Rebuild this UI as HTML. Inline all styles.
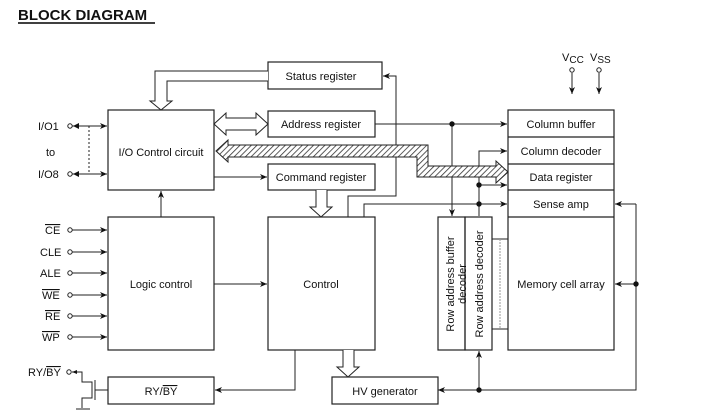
<!DOCTYPE html>
<html><head><meta charset="utf-8"><style>
body{margin:0;background:#fff;}
svg{display:block;font-family:"Liberation Sans",Arial,sans-serif;}
text{font-size:11px;fill:#111;}
</style></head><body>
<svg width="709" height="411" viewBox="0 0 709 411" xmlns="http://www.w3.org/2000/svg">
<defs>
<marker id="a" markerWidth="8" markerHeight="8" refX="7" refY="4" orient="auto" markerUnits="userSpaceOnUse"><path d="M0,1 L7,4 L0,7 L2,4 z" fill="#111"/></marker>
<pattern id="h" width="4" height="4" patternUnits="userSpaceOnUse" patternTransform="rotate(45)"><rect width="4" height="4" fill="#fff"/><line x1="0" y1="0" x2="0" y2="4" stroke="#333" stroke-width="1.6"/></pattern>
</defs>
<text x="18" y="20" style="font-size:15px;font-weight:bold">BLOCK DIAGRAM</text>
<line x1="18" y1="23" x2="155" y2="23" stroke="#000" stroke-width="1.5"/>
<g fill="none" stroke="#222" stroke-width="1.2">
<rect x="108" y="110" width="106" height="80"/>
<rect x="108" y="217" width="106" height="133"/>
<rect x="268" y="62" width="114" height="27"/>
<rect x="268" y="111" width="107" height="26"/>
<rect x="268" y="164" width="107" height="26"/>
<rect x="268" y="217" width="107" height="133"/>
<rect x="108" y="377" width="106" height="27"/>
<rect x="332" y="377" width="106" height="27"/>
<rect x="438" y="217" width="27" height="133"/>
<rect x="465" y="217" width="27" height="133"/>
<rect x="508" y="110" width="106" height="240"/>
<line x1="508" y1="137" x2="614" y2="137"/>
<line x1="508" y1="164" x2="614" y2="164"/>
<line x1="508" y1="190" x2="614" y2="190"/>
<line x1="508" y1="217" x2="614" y2="217"/>
</g>
<g font-size="11">
<text x="161" y="156" text-anchor="middle">I/O Control circuit</text>
<text x="161" y="288" text-anchor="middle">Logic control</text>
<text x="321" y="80" text-anchor="middle">Status register</text>
<text x="321" y="128" text-anchor="middle">Address register</text>
<text x="321" y="181" text-anchor="middle">Command register</text>
<text x="321" y="288" text-anchor="middle">Control</text>
<text x="161" y="395" text-anchor="middle">RY/<tspan text-decoration="overline">BY</tspan></text>
<text x="385" y="395" text-anchor="middle">HV generator</text>
<text x="561" y="128" text-anchor="middle">Column buffer</text>
<text x="561" y="155" text-anchor="middle">Column decoder</text>
<text x="561" y="181" text-anchor="middle">Data register</text>
<text x="561" y="208" text-anchor="middle">Sense amp</text>
<text x="561" y="288" text-anchor="middle">Memory cell array</text>
<text transform="translate(454,284) rotate(-90)" text-anchor="middle">Row address buffer</text>
<text transform="translate(466,284) rotate(-90)" text-anchor="middle">decoder</text>
<text transform="translate(483,284) rotate(-90)" text-anchor="middle">Row address decoder</text>
<text x="38" y="130">I/O1</text>
<text x="46" y="156">to</text>
<text x="38" y="178">I/O8</text>
<text x="45" y="234" text-decoration="overline">CE</text>
<text x="40" y="256">CLE</text>
<text x="40" y="277">ALE</text>
<text x="42" y="299" text-decoration="overline">WE</text>
<text x="45" y="320" text-decoration="overline">RE</text>
<text x="42" y="341" text-decoration="overline">WP</text>
<text x="28" y="376">RY/<tspan text-decoration="overline">BY</tspan></text>
<text x="562" y="61">V<tspan style="font-size:10px" dy="2">CC</tspan></text>
<text x="590" y="61">V<tspan style="font-size:10px" dy="2">SS</tspan></text>
</g>
<g fill="none" stroke="#222" stroke-width="1" marker-end="url(#a)">
<line x1="72" y1="126" x2="107" y2="126"/>
<line x1="72" y1="174" x2="107" y2="174"/>
<line x1="72" y1="230" x2="107" y2="230"/>
<line x1="72" y1="252" x2="107" y2="252"/>
<line x1="72" y1="273" x2="107" y2="273"/>
<line x1="72" y1="295" x2="107" y2="295"/>
<line x1="72" y1="316" x2="107" y2="316"/>
<line x1="72" y1="337" x2="107" y2="337"/>
<line x1="161" y1="217" x2="161" y2="191"/>
<line x1="214" y1="177" x2="267" y2="177"/>
<line x1="214" y1="284" x2="267" y2="284"/>
<polyline points="295,350 295,390 215,390"/>
<polyline points="348,217 348,196 396,196 396,76 383,76"/>
<line x1="375" y1="124" x2="507" y2="124"/>
<line x1="452" y1="124" x2="452" y2="216"/>
<polyline points="364,217 364,204 507,204"/>
<polyline points="479,216 479,151 507,151"/>
<line x1="479" y1="185" x2="507" y2="185"/>
<polyline points="636,204 636,390 438,390"/>
<line x1="636" y1="204" x2="615" y2="204"/>
<line x1="636" y1="284" x2="615" y2="284"/>
<line x1="479" y1="390" x2="479" y2="351"/>
<line x1="572" y1="73" x2="572" y2="94"/>
<line x1="599" y1="73" x2="599" y2="94"/>
</g>
<g fill="none" stroke="#222" stroke-width="1">
<line x1="89" y1="126" x2="89" y2="174" stroke-dasharray="2,2"/>
<line x1="492" y1="239" x2="508" y2="239"/>
<line x1="492" y1="329" x2="508" y2="329"/>
<line x1="500" y1="239" x2="500" y2="329" stroke="#999" stroke-dasharray="2,1"/>
<polyline points="72,372 82,372 82,382 92,382 92,398 82,398 82,408"/>
<line x1="95" y1="380" x2="95" y2="400"/>
<line x1="95" y1="390" x2="108" y2="390"/>
<line x1="76" y1="409" x2="90" y2="409"/>
</g>
<g fill="#fff" stroke="#222" stroke-width="1">
<circle cx="70" cy="126" r="2.2"/><circle cx="70" cy="174" r="2.2"/>
<circle cx="70" cy="230" r="2.2"/><circle cx="70" cy="252" r="2.2"/>
<circle cx="70" cy="273" r="2.2"/><circle cx="70" cy="295" r="2.2"/>
<circle cx="70" cy="316" r="2.2"/><circle cx="70" cy="337" r="2.2"/>
<circle cx="69" cy="372" r="2.2"/>
<circle cx="572" cy="70" r="2.2"/><circle cx="599" cy="70" r="2.2"/>
</g>
<path d="M73,126 L79,123 L79,129 z M73,174 L79,171 L79,177 z M72,372 L77,370 L77,374z" fill="#111"/>
<g fill="#111">
<circle cx="452" cy="124" r="2.7"/><circle cx="479" cy="185" r="2.7"/>
<circle cx="479" cy="204" r="2.7"/><circle cx="636" cy="284" r="2.7"/>
<circle cx="479" cy="390" r="2.7"/>
</g>
<g fill="#fff" stroke="#222" stroke-width="1">
<path d="M268,71 L155,71 L155,101 L150,101 L161,110 L172,101 L167,101 L167,81 L268,81"/>
<path d="M214,124 L226,113 L226,118 L256,118 L256,113 L268,124 L256,135 L256,130 L226,130 L226,135 z"/>
<path d="M316,190 L316,207 L310,207 L321,217 L332,207 L327,207 L327,190"/>
<path d="M343,350 L343,367 L337,367 L348,377 L359,367 L354,367 L354,350"/>
<path d="M216,151 L228,140 L228,145 L428,145 L428,166 L496,166 L496,161 L508,172 L496,183 L496,177 L417,177 L417,157 L228,157 L228,162 z" fill="url(#h)"/>
</g>
</svg>
</body></html>
